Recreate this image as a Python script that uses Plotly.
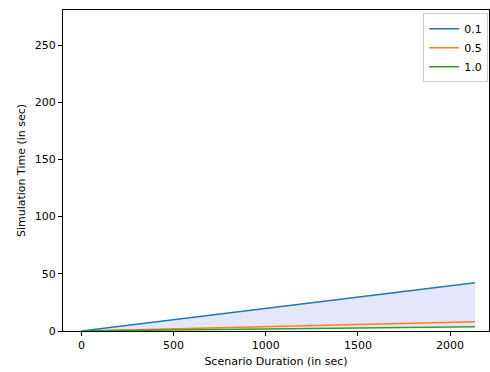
import plotly.graph_objects as go

duration = [0, 500, 1000, 1500, 2135]
sim_01 = [0, 9.9, 19.8, 29.7, 42.2]
sim_05 = [0, 1.9, 3.8, 5.7, 8.1]
sim_10 = [0, 0.9, 1.8, 2.7, 3.8]
labels = ["0.1", "0.5", "1.0"]
colors = ["#1f77b4", "#ff7f0e", "#2ca02c"]

fig = go.Figure()
# shaded band between highest and lowest series
fig.add_trace(go.Scatter(x=duration, y=sim_10, mode="lines", line=dict(width=0),
                         showlegend=False, hoverinfo="skip"))
fig.add_trace(go.Scatter(x=duration, y=sim_01, mode="lines", line=dict(width=0),
                         fill="tonexty", fillcolor="rgba(230,230,250,1)",
                         showlegend=False, hoverinfo="skip"))
for ys, lab, c in zip([sim_01, sim_05, sim_10], labels, colors):
    fig.add_trace(go.Scatter(x=duration, y=ys, mode="lines", name=lab,
                             line=dict(color=c, width=1.5)))

axis_common = dict(showgrid=False, zeroline=False, showline=True, linecolor="black",
                   linewidth=1, mirror=True, ticks="outside", ticklen=4,
                   tickcolor="black", tickfont=dict(size=11, color="black"))
fig.update_xaxes(range=[-100, 2211], tickvals=[0, 500, 1000, 1500, 2000],
                 title=dict(text="Scenario Duration (in sec)", font=dict(size=11, color="black"),
                            standoff=6), **axis_common)
fig.update_yaxes(range=[0, 280.6], tickvals=[0, 50, 100, 150, 200, 250],
                 title=dict(text="Simulation Time (in sec)", font=dict(size=11, color="black"),
                            standoff=6), **axis_common)
fig.update_layout(
    width=490, height=372,
    margin=dict(l=63, r=1, t=10, b=41),
    paper_bgcolor="white", plot_bgcolor="white",
    font=dict(family="DejaVu Sans", size=11, color="black"),
    legend=dict(x=0.998, y=0.99, xanchor="right", yanchor="top",
                bordercolor="#cccccc", borderwidth=1, bgcolor="white",
                font=dict(size=11), tracegroupgap=0, traceorder="normal",
                itemwidth=30),
)
fig.write_html("out.html", config={"displayModeBar": False},
               post_script="document.body.style.margin='0px';document.body.style.overflow='hidden';")
